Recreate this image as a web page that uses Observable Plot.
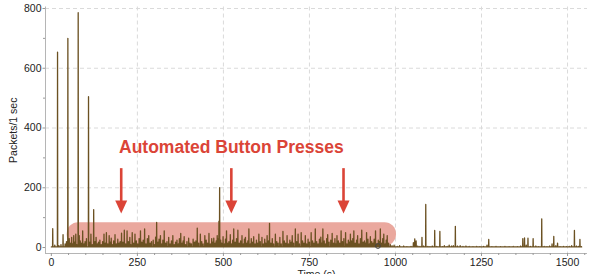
<!DOCTYPE html>
<html>
<head>
<meta charset="utf-8">
<script src="https://cdn.jsdelivr.net/npm/d3@7"></script>
<script src="https://cdn.jsdelivr.net/npm/@observablehq/plot@0.6"></script>
<style>
  html, body { margin: 0; padding: 0; background: #fff; }
  #chart { width: 590px; height: 274px; overflow: hidden; }
</style>
</head>
<body>
<div id="chart"></div>
<script>
// Spike times (s) and packets per second
const spikeTimes = [4,10,18,22,28,34,40,44,48,52,56,59,62,65,68,71,74,78,81,84,87,91,95,98,102,108,112,115,119,123,127,130,134,137,141,145,149,153,157,160,164,168,171,174,178,181,185,189,193,197,200,204,208,212,216,220,224,228,231,235,239,243,247,251,255,259,263,267,271,275,279,283,287,291,296,300,303,306,310,313,317,321,324,328,332,336,341,345,349,353,357,361,365,369,372,376,380,383,386,390,394,399,403,407,412,416,420,424,428,433,437,441,446,450,454,458,462,466,469,472,476,479,482,485,487,489,492,495,499,503,506,509,513,516,520,524,527,530,534,538,542,546,550,554,558,561,564,568,571,574,578,581,585,588,592,596,599,603,607,612,616,620,623,627,631,634,638,642,646,651,655,659,664,668,673,677,681,685,689,693,697,700,704,709,713,717,721,726,730,734,738,742,746,750,755,759,763,767,771,775,779,783,786,789,793,797,800,803,807,812,816,820,824,827,830,834,838,842,846,850,855,859,863,866,869,872,876,879,883,887,890,894,898,902,906,910,913,916,920,924,927,931,935,938,942,946,950,953,956,960,963,966,970,973,976,980,985,990,996,1005,1012,1024,1033,1045,1052,1056,1060,1065,1071,1077,1082,1088,1094,1100,1107,1114,1120,1129,1136,1142,1150,1156,1163,1168,1174,1180,1188,1196,1205,1214,1225,1236,1245,1256,1266,1271,1280,1292,1305,1318,1330,1342,1354,1364,1370,1375,1380,1385,1392,1400,1408,1416,1425,1432,1440,1448,1455,1460,1466,1471,1478,1488,1497,1505,1512,1520,1526,1532,1536,1540];
const spikeValues = [63,8,654,6,10,43,12,20,700,30,15,34,12,40,18,45,10,786,40,22,15,56,12,20,30,505,18,45,10,127,20,34,12,18,25,10,20,45,15,50,12,40,18,31,10,22,43,12,28,15,20,48,18,58,12,56,20,34,10,50,15,45,22,12,30,56,18,25,62,12,30,40,15,20,25,10,35,84,18,28,40,12,25,56,15,20,34,12,22,40,10,18,25,12,30,47,15,22,36,10,20,31,15,12,28,18,22,65,15,45,20,12,40,25,15,47,12,30,18,31,15,22,40,30,88,200,25,15,36,12,28,56,15,20,43,12,25,62,18,30,58,15,22,40,12,28,34,15,22,62,12,30,18,36,12,25,15,45,20,34,12,28,15,40,22,81,15,30,12,45,20,15,34,12,54,22,15,40,12,25,18,40,15,62,20,45,12,50,22,15,40,12,28,18,50,22,15,62,20,12,28,35,15,62,22,12,30,43,18,25,47,15,30,12,40,22,15,56,20,30,50,12,25,18,45,22,30,56,15,25,40,12,30,58,18,22,15,50,28,12,36,20,15,28,56,12,25,20,62,15,30,45,12,25,40,15,10,6,8,4,6,5,3,4,16,29,22,5,4,34,5,144,4,3,5,57,4,54,3,6,4,8,5,6,71,5,6,4,5,4,3,4,3,4,8,27,3,4,3,4,3,4,3,5,30,32,8,31,4,30,5,3,96,4,3,5,12,37,6,15,3,4,3,4,6,57,5,4,27,3];
const baseLevel = 2;

// Axis ticks
const xTicks = [0,250,500,750,1000,1250,1500];
const xMinorTicks = [50,100,150,200,300,350,400,450,550,600,650,700,800,850,900,950,1050,1100,1150,1200,1300,1350,1400,1450,1550];
const yTicks = [0,200,400,600,800];
const yMinorTicks = [100,300,500,700];
const gridX = [250,500,750,1000,1250,1500];
const gridY = [200,400,600,800];

// Annotation
const annotationText = "Automated Button Presses";
const annotationTextPos = {t: 523, v: 336};
const arrowTimes = [203, 523, 849];
const arrowTop = 264, arrowTip = 114;
const bandRange = {t1: 46, t2: 1003, v1: 4, v2: 83};
const ringPoint = [{t: 949, v: 5}];

// Build the series: each spike is a narrow peak on the baseline
const series = [{t: 0, v: baseLevel}];
spikeTimes.forEach((t, i) => {
  series.push({t: t - 0.5, v: baseLevel}, {t, v: spikeValues[i]}, {t: t + 0.5, v: baseLevel});
});
series.push({t: 1541, v: baseLevel});

const red = "#db4437";
const headSymbol = {
  draw(ctx) {
    ctx.moveTo(0, 0);
    ctx.lineTo(-6, -13);
    ctx.lineTo(6, -13);
    ctx.closePath();
  }
};

const chart = Plot.plot({
  width: 590,
  height: 274,
  marginLeft: 45,
  marginRight: 3,
  marginTop: 6.5,
  marginBottom: 21,
  style: {fontFamily: "'Liberation Sans', Arial, Helvetica, sans-serif", fontSize: "10.5px", color: "#222", background: "#fff", overflow: "hidden"},
  x: {domain: [-17, 1558]},
  y: {domain: [-20, 805]},
  marks: [
    Plot.ruleX(gridX, {stroke: "#dadada", strokeDasharray: "4,3", strokeWidth: 1}),
    Plot.ruleY(gridY, {stroke: "#dadada", strokeDasharray: "4,3", strokeWidth: 1}),
    Plot.rect([bandRange], {x1: "t1", x2: "t2", y1: "v1", y2: "v2", fill: "#eaa89e", rx: 11.5}),
    Plot.line(series, {x: "t", y: "v", stroke: "#6b5122", strokeWidth: 1.3}),
    Plot.dot(ringPoint, {x: "t", y: "v", r: 2.4, stroke: "#444", strokeWidth: 1, fill: "none"}),
    Plot.ruleX([-17], {stroke: "#b5b5b5"}),
    Plot.ruleY([-20], {stroke: "#b5b5b5"}),
    Plot.axisX({ticks: xTicks, tickSize: 3, tickPadding: 2, tickFormat: d => String(d), stroke: "#999", label: null}),
    Plot.axisX({ticks: xMinorTicks, tickSize: 2, text: null, stroke: "#999", label: null}),
    Plot.axisY({ticks: yTicks, tickSize: 2.5, tickPadding: 1.5, tickFormat: d => String(d), stroke: "#999", label: "Packets/1 sec", labelAnchor: "center", labelOffset: 36, labelArrow: false}),
    Plot.axisY({ticks: yMinorTicks, tickSize: 2, text: null, stroke: "#999", label: null}),
    Plot.text(["Time (s)"], {frameAnchor: "bottom", dy: 17.5, lineAnchor: "top", fill: "#222"}),
    Plot.ruleX(arrowTimes, {x: d => d, y1: 150, y2: arrowTop, stroke: red, strokeWidth: 2.6}),
    Plot.dot(arrowTimes, {x: d => d, y: arrowTip, symbol: headSymbol, fill: red, stroke: "none"}),
    Plot.text([annotationText], {x: annotationTextPos.t, y: annotationTextPos.v, fill: red, fontSize: 17.5, fontWeight: "bold", fontFamily: "'Liberation Sans', Arial, sans-serif"})
  ]
});
document.getElementById("chart").appendChild(chart);
</script>
</body>
</html>
